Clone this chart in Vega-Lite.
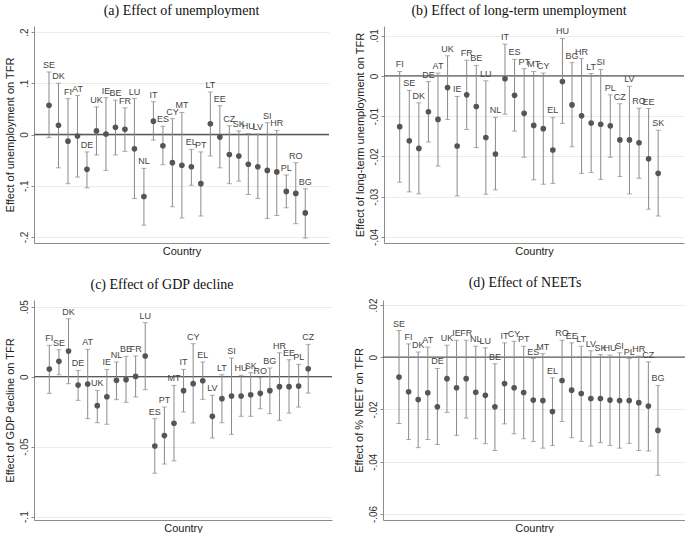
{
"$schema": "https://vega.github.io/schema/vega-lite/v6.json",
"padding": {"left": 4, "top": 4, "right": 0, "bottom": 0},
"background": "white",
"spacing": 20,
"datasets": {
"a": [
{"c":"SE","r":1,"est":0.057,"lo":-0.006,"hi":0.122},
{"c":"DK","r":2,"est":0.018,"lo":-0.065,"hi":0.100},
{"c":"FI","r":3,"est":-0.013,"lo":-0.096,"hi":0.070},
{"c":"AT","r":4,"est":-0.003,"lo":-0.083,"hi":0.076},
{"c":"DE","r":5,"est":-0.068,"lo":-0.104,"hi":-0.034},
{"c":"UK","r":6,"est":0.007,"lo":-0.040,"hi":0.054},
{"c":"IE","r":7,"est":0.001,"lo":-0.070,"hi":0.072},
{"c":"BE","r":8,"est":0.014,"lo":-0.040,"hi":0.067},
{"c":"FR","r":9,"est":0.010,"lo":-0.033,"hi":0.052},
{"c":"LU","r":10,"est":-0.028,"lo":-0.125,"hi":0.070},
{"c":"NL","r":11,"est":-0.121,"lo":-0.177,"hi":-0.066},
{"c":"IT","r":12,"est":0.026,"lo":-0.011,"hi":0.064},
{"c":"ES","r":13,"est":-0.022,"lo":-0.059,"hi":0.016},
{"c":"CY","r":14,"est":-0.055,"lo":-0.141,"hi":0.031},
{"c":"MT","r":15,"est":-0.060,"lo":-0.163,"hi":0.043},
{"c":"EL","r":16,"est":-0.063,"lo":-0.099,"hi":-0.029},
{"c":"PT","r":17,"est":-0.096,"lo":-0.159,"hi":-0.034},
{"c":"LT","r":18,"est":0.021,"lo":-0.042,"hi":0.083},
{"c":"EE","r":19,"est":-0.005,"lo":-0.065,"hi":0.056},
{"c":"CZ","r":20,"est":-0.039,"lo":-0.096,"hi":0.017},
{"c":"SK","r":21,"est":-0.042,"lo":-0.091,"hi":0.007},
{"c":"HU","r":22,"est":-0.058,"lo":-0.117,"hi":0.002},
{"c":"LV","r":23,"est":-0.063,"lo":-0.125,"hi":0.001},
{"c":"SI","r":24,"est":-0.070,"lo":-0.164,"hi":0.023},
{"c":"HR","r":25,"est":-0.073,"lo":-0.158,"hi":0.008},
{"c":"PL","r":26,"est":-0.111,"lo":-0.143,"hi":-0.079},
{"c":"RO","r":27,"est":-0.115,"lo":-0.174,"hi":-0.055},
{"c":"BG","r":28,"est":-0.153,"lo":-0.202,"hi":-0.106}
],
"b": [
{"c":"FI","r":1,"est":-0.0126,"lo":-0.0264,"hi":0.0011},
{"c":"SE","r":2,"est":-0.0161,"lo":-0.0288,"hi":-0.0036},
{"c":"DK","r":3,"est":-0.0180,"lo":-0.0293,"hi":-0.0067},
{"c":"DE","r":4,"est":-0.0089,"lo":-0.0164,"hi":-0.0014},
{"c":"AT","r":5,"est":-0.0108,"lo":-0.0224,"hi":0.0007},
{"c":"UK","r":6,"est":-0.0029,"lo":-0.0108,"hi":0.0050},
{"c":"IE","r":7,"est":-0.0174,"lo":-0.0298,"hi":-0.0051},
{"c":"FR","r":8,"est":-0.0047,"lo":-0.0133,"hi":0.0039},
{"c":"BE","r":9,"est":-0.0076,"lo":-0.0178,"hi":0.0026},
{"c":"LU","r":10,"est":-0.0153,"lo":-0.0294,"hi":-0.0012},
{"c":"NL","r":11,"est":-0.0194,"lo":-0.0283,"hi":-0.0103},
{"c":"IT","r":12,"est":-0.0007,"lo":-0.0095,"hi":0.0079},
{"c":"ES","r":13,"est":-0.0048,"lo":-0.0137,"hi":0.0041},
{"c":"PT","r":14,"est":-0.0093,"lo":-0.0202,"hi":0.0018},
{"c":"MT","r":15,"est":-0.0123,"lo":-0.0258,"hi":0.0011},
{"c":"CY","r":16,"est":-0.0131,"lo":-0.0269,"hi":0.0007},
{"c":"EL","r":17,"est":-0.0184,"lo":-0.0267,"hi":-0.0103},
{"c":"HU","r":18,"est":-0.0014,"lo":-0.0118,"hi":0.0093},
{"c":"BG","r":19,"est":-0.0072,"lo":-0.0176,"hi":0.0033},
{"c":"HR","r":20,"est":-0.0099,"lo":-0.0242,"hi":0.0043},
{"c":"LT","r":21,"est":-0.0117,"lo":-0.0240,"hi":0.0006},
{"c":"SI","r":22,"est":-0.0120,"lo":-0.0257,"hi":0.0016},
{"c":"PL","r":23,"est":-0.0124,"lo":-0.0202,"hi":-0.0047},
{"c":"CZ","r":24,"est":-0.0159,"lo":-0.0250,"hi":-0.0069},
{"c":"LV","r":25,"est":-0.0159,"lo":-0.0293,"hi":-0.0026},
{"c":"RO","r":26,"est":-0.0166,"lo":-0.0254,"hi":-0.0080},
{"c":"EE","r":27,"est":-0.0206,"lo":-0.0331,"hi":-0.0081},
{"c":"SK","r":28,"est":-0.0242,"lo":-0.0348,"hi":-0.0135}
],
"c": [
{"c":"FI","r":1,"est":0.0055,"lo":-0.0119,"hi":0.0224},
{"c":"SE","r":2,"est":0.0110,"lo":0.0014,"hi":0.0193},
{"c":"DK","r":3,"est":0.0183,"lo":-0.0050,"hi":0.0414},
{"c":"DE","r":4,"est":-0.0060,"lo":-0.0169,"hi":0.0045},
{"c":"AT","r":5,"est":-0.0052,"lo":-0.0300,"hi":0.0195},
{"c":"UK","r":6,"est":-0.0207,"lo":-0.0329,"hi":-0.0098},
{"c":"IE","r":7,"est":-0.0143,"lo":-0.0340,"hi":0.0052},
{"c":"NL","r":8,"est":-0.0026,"lo":-0.0164,"hi":0.0105},
{"c":"BE","r":9,"est":-0.0021,"lo":-0.0183,"hi":0.0145},
{"c":"FR","r":10,"est":0.0002,"lo":-0.0145,"hi":0.0148},
{"c":"LU","r":11,"est":0.0148,"lo":-0.0093,"hi":0.0386},
{"c":"ES","r":12,"est":-0.0495,"lo":-0.0690,"hi":-0.0300},
{"c":"PT","r":13,"est":-0.0421,"lo":-0.0624,"hi":-0.0217},
{"c":"MT","r":14,"est":-0.0333,"lo":-0.0602,"hi":-0.0062},
{"c":"IT","r":15,"est":-0.0100,"lo":-0.0252,"hi":0.0052},
{"c":"CY","r":16,"est":-0.0050,"lo":-0.0331,"hi":0.0236},
{"c":"EL","r":17,"est":-0.0029,"lo":-0.0162,"hi":0.0105},
{"c":"LV","r":18,"est":-0.0283,"lo":-0.0438,"hi":-0.0133},
{"c":"LT","r":19,"est":-0.0157,"lo":-0.0329,"hi":0.0014},
{"c":"SI","r":20,"est":-0.0138,"lo":-0.0412,"hi":0.0133},
{"c":"HU","r":21,"est":-0.0138,"lo":-0.0283,"hi":0.0010},
{"c":"SK","r":22,"est":-0.0129,"lo":-0.0283,"hi":0.0029},
{"c":"RO","r":23,"est":-0.0119,"lo":-0.0229,"hi":-0.0007},
{"c":"BG","r":24,"est":-0.0100,"lo":-0.0264,"hi":0.0062},
{"c":"HR","r":25,"est":-0.0071,"lo":-0.0312,"hi":0.0171},
{"c":"EE","r":26,"est":-0.0071,"lo":-0.0260,"hi":0.0121},
{"c":"PL","r":27,"est":-0.0067,"lo":-0.0217,"hi":0.0088},
{"c":"CZ","r":28,"est":0.0057,"lo":-0.0117,"hi":0.0231}
],
"d": [
{"c":"SE","r":1,"est":-0.0076,"lo":-0.0254,"hi":0.0102},
{"c":"FI","r":2,"est":-0.0132,"lo":-0.0315,"hi":0.0051},
{"c":"DK","r":3,"est":-0.0162,"lo":-0.0346,"hi":0.0020},
{"c":"AT","r":4,"est":-0.0136,"lo":-0.0315,"hi":0.0039},
{"c":"DE","r":5,"est":-0.0190,"lo":-0.0334,"hi":-0.0043},
{"c":"UK","r":6,"est":-0.0082,"lo":-0.0211,"hi":0.0046},
{"c":"IE","r":7,"est":-0.0117,"lo":-0.0299,"hi":0.0065},
{"c":"FR","r":8,"est":-0.0082,"lo":-0.0233,"hi":0.0065},
{"c":"NL","r":9,"est":-0.0134,"lo":-0.0312,"hi":0.0042},
{"c":"LU","r":10,"est":-0.0146,"lo":-0.0331,"hi":0.0036},
{"c":"BE","r":11,"est":-0.0190,"lo":-0.0357,"hi":-0.0025},
{"c":"IT","r":12,"est":-0.0101,"lo":-0.0255,"hi":0.0055},
{"c":"CY","r":13,"est":-0.0117,"lo":-0.0293,"hi":0.0061},
{"c":"PT","r":14,"est":-0.0135,"lo":-0.0312,"hi":0.0042},
{"c":"ES","r":15,"est":-0.0164,"lo":-0.0323,"hi":-0.0005},
{"c":"MT","r":16,"est":-0.0166,"lo":-0.0348,"hi":0.0014},
{"c":"EL","r":17,"est":-0.0208,"lo":-0.0338,"hi":-0.0079},
{"c":"RO","r":18,"est":-0.0089,"lo":-0.0246,"hi":0.0065},
{"c":"EE","r":19,"est":-0.0126,"lo":-0.0308,"hi":0.0055},
{"c":"LT","r":20,"est":-0.0139,"lo":-0.0322,"hi":0.0042},
{"c":"LV","r":21,"est":-0.0158,"lo":-0.0340,"hi":0.0025},
{"c":"SK","r":22,"est":-0.0158,"lo":-0.0327,"hi":0.0010},
{"c":"HU","r":23,"est":-0.0164,"lo":-0.0338,"hi":0.0008},
{"c":"SI","r":24,"est":-0.0166,"lo":-0.0348,"hi":0.0017},
{"c":"PL","r":25,"est":-0.0166,"lo":-0.0330,"hi":-0.0005},
{"c":"HR","r":26,"est":-0.0174,"lo":-0.0357,"hi":0.0004},
{"c":"CZ","r":27,"est":-0.0187,"lo":-0.0359,"hi":-0.0018},
{"c":"BG","r":28,"est":-0.0280,"lo":-0.0452,"hi":-0.0108}
]
},
"vconcat": [
{"spacing": 24, "hconcat": [
{"width": 295, "height": 217,
 "title": {"text": "(a) Effect of unemployment", "dx": 0},
 "data": {"name": "a"},
 "layer": [
  {"data": {"values": [{}]}, "mark": {"type": "rule", "color": "#5a5a5a", "strokeWidth": 1.3},
   "encoding": {"y": {"datum": 0, "type": "quantitative", "title": "Effect of unemployment on TFR", "scale": {"domain": [-0.2117, 0.2117], "nice": false, "zero": false},
     "axis": {"values": [-0.2, -0.1, 0, 0.1, 0.2], "labelExpr": "datum.value == 0 ? '0' : replace(replace(format(datum.value, '.2~f'), '0.', '.'), '−', '-')", "grid": true}}}},
  {"mark": {"type": "rule", "color": "#8a8a8a", "strokeWidth": 1},
   "encoding": {"x": {"field": "r", "type": "quantitative", "title": "Country", "scale": {"domain": [-0.58, 30.5], "nice": false, "zero": false}},
     "y": {"field": "lo", "type": "quantitative", "title": "Effect of unemployment on TFR", "scale": {"domain": [-0.2117, 0.2117], "nice": false, "zero": false}}, "y2": {"field": "hi"}}},
  {"mark": {"type": "tick", "orient": "horizontal", "size": 5, "thickness": 1, "color": "#8a8a8a"},
   "encoding": {"x": {"field": "r", "type": "quantitative", "title": "Country", "scale": {"domain": [-0.58, 30.5], "nice": false, "zero": false}},
     "y": {"field": "lo", "type": "quantitative", "title": "Effect of unemployment on TFR", "scale": {"domain": [-0.2117, 0.2117], "nice": false, "zero": false}}}},
  {"mark": {"type": "tick", "orient": "horizontal", "size": 5, "thickness": 1, "color": "#8a8a8a"},
   "encoding": {"x": {"field": "r", "type": "quantitative", "title": "Country", "scale": {"domain": [-0.58, 30.5], "nice": false, "zero": false}},
     "y": {"field": "hi", "type": "quantitative", "title": "Effect of unemployment on TFR", "scale": {"domain": [-0.2117, 0.2117], "nice": false, "zero": false}}}},
  {"mark": {"type": "point", "filled": true, "size": 32, "color": "#555555", "opacity": 1},
   "encoding": {"x": {"field": "r", "type": "quantitative", "title": "Country", "scale": {"domain": [-0.58, 30.5], "nice": false, "zero": false}},
     "y": {"field": "est", "type": "quantitative", "title": "Effect of unemployment on TFR", "scale": {"domain": [-0.2117, 0.2117], "nice": false, "zero": false}}}},
  {"mark": {"type": "text", "fontSize": 9, "color": "#444444", "baseline": "bottom", "dy": -2},
   "encoding": {"x": {"field": "r", "type": "quantitative", "title": "Country", "scale": {"domain": [-0.58, 30.5], "nice": false, "zero": false}},
     "y": {"field": "hi", "type": "quantitative", "title": "Effect of unemployment on TFR", "scale": {"domain": [-0.2117, 0.2117], "nice": false, "zero": false}}, "text": {"field": "c"}}}
 ]},
{"width": 300, "height": 217,
 "title": {"text": "(b) Effect of long-term unemployment", "dx": -15},
 "data": {"name": "b"},
 "layer": [
  {"data": {"values": [{}]}, "mark": {"type": "rule", "color": "#5a5a5a", "strokeWidth": 1.3},
   "encoding": {"y": {"datum": 0, "type": "quantitative", "title": "Effect of long-term unemployment on TFR", "scale": {"domain": [-0.0415, 0.0124], "nice": false, "zero": false},
     "axis": {"values": [-0.04, -0.03, -0.02, -0.01, 0, 0.01], "labelExpr": "datum.value == 0 ? '0' : replace(replace(format(datum.value, '.2~f'), '0.', '.'), '−', '-')", "grid": true}}}},
  {"mark": {"type": "rule", "color": "#8a8a8a", "strokeWidth": 1},
   "encoding": {"x": {"field": "r", "type": "quantitative", "title": "Country", "scale": {"domain": [-0.64, 30.7], "nice": false, "zero": false}},
     "y": {"field": "lo", "type": "quantitative", "title": "Effect of long-term unemployment on TFR", "scale": {"domain": [-0.0415, 0.0124], "nice": false, "zero": false}}, "y2": {"field": "hi"}}},
  {"mark": {"type": "tick", "orient": "horizontal", "size": 5, "thickness": 1, "color": "#8a8a8a"},
   "encoding": {"x": {"field": "r", "type": "quantitative", "title": "Country", "scale": {"domain": [-0.64, 30.7], "nice": false, "zero": false}},
     "y": {"field": "lo", "type": "quantitative", "title": "Effect of long-term unemployment on TFR", "scale": {"domain": [-0.0415, 0.0124], "nice": false, "zero": false}}}},
  {"mark": {"type": "tick", "orient": "horizontal", "size": 5, "thickness": 1, "color": "#8a8a8a"},
   "encoding": {"x": {"field": "r", "type": "quantitative", "title": "Country", "scale": {"domain": [-0.64, 30.7], "nice": false, "zero": false}},
     "y": {"field": "hi", "type": "quantitative", "title": "Effect of long-term unemployment on TFR", "scale": {"domain": [-0.0415, 0.0124], "nice": false, "zero": false}}}},
  {"mark": {"type": "point", "filled": true, "size": 32, "color": "#555555", "opacity": 1},
   "encoding": {"x": {"field": "r", "type": "quantitative", "title": "Country", "scale": {"domain": [-0.64, 30.7], "nice": false, "zero": false}},
     "y": {"field": "est", "type": "quantitative", "title": "Effect of long-term unemployment on TFR", "scale": {"domain": [-0.0415, 0.0124], "nice": false, "zero": false}}}},
  {"mark": {"type": "text", "fontSize": 9, "color": "#444444", "baseline": "bottom", "dy": -2},
   "encoding": {"x": {"field": "r", "type": "quantitative", "title": "Country", "scale": {"domain": [-0.64, 30.7], "nice": false, "zero": false}},
     "y": {"field": "hi", "type": "quantitative", "title": "Effect of long-term unemployment on TFR", "scale": {"domain": [-0.0415, 0.0124], "nice": false, "zero": false}}, "text": {"field": "c"}}}
 ]}
]},
{"spacing": 20, "hconcat": [
{"width": 298, "height": 220,
 "title": {"text": "(c) Effect of GDP decline", "dx": -21},
 "data": {"name": "c"},
 "layer": [
  {"data": {"values": [{}]}, "mark": {"type": "rule", "color": "#5a5a5a", "strokeWidth": 1.3},
   "encoding": {"y": {"datum": 0, "type": "quantitative", "title": "Effect of GDP decline on TFR", "scale": {"domain": [-0.1024, 0.0548], "nice": false, "zero": false},
     "axis": {"values": [-0.1, -0.05, 0, 0.05], "labelExpr": "datum.value == 0 ? '0' : replace(replace(format(datum.value, '.2~f'), '0.', '.'), '−', '-')", "grid": true}}}},
  {"mark": {"type": "rule", "color": "#8a8a8a", "strokeWidth": 1},
   "encoding": {"x": {"field": "r", "type": "quantitative", "title": "Country", "scale": {"domain": [-0.6, 30.48], "nice": false, "zero": false}},
     "y": {"field": "lo", "type": "quantitative", "title": "Effect of GDP decline on TFR", "scale": {"domain": [-0.1024, 0.0548], "nice": false, "zero": false}}, "y2": {"field": "hi"}}},
  {"mark": {"type": "tick", "orient": "horizontal", "size": 5, "thickness": 1, "color": "#8a8a8a"},
   "encoding": {"x": {"field": "r", "type": "quantitative", "title": "Country", "scale": {"domain": [-0.6, 30.48], "nice": false, "zero": false}},
     "y": {"field": "lo", "type": "quantitative", "title": "Effect of GDP decline on TFR", "scale": {"domain": [-0.1024, 0.0548], "nice": false, "zero": false}}}},
  {"mark": {"type": "tick", "orient": "horizontal", "size": 5, "thickness": 1, "color": "#8a8a8a"},
   "encoding": {"x": {"field": "r", "type": "quantitative", "title": "Country", "scale": {"domain": [-0.6, 30.48], "nice": false, "zero": false}},
     "y": {"field": "hi", "type": "quantitative", "title": "Effect of GDP decline on TFR", "scale": {"domain": [-0.1024, 0.0548], "nice": false, "zero": false}}}},
  {"mark": {"type": "point", "filled": true, "size": 32, "color": "#555555", "opacity": 1},
   "encoding": {"x": {"field": "r", "type": "quantitative", "title": "Country", "scale": {"domain": [-0.6, 30.48], "nice": false, "zero": false}},
     "y": {"field": "est", "type": "quantitative", "title": "Effect of GDP decline on TFR", "scale": {"domain": [-0.1024, 0.0548], "nice": false, "zero": false}}}},
  {"mark": {"type": "text", "fontSize": 9, "color": "#444444", "baseline": "bottom", "dy": -2},
   "encoding": {"x": {"field": "r", "type": "quantitative", "title": "Country", "scale": {"domain": [-0.6, 30.48], "nice": false, "zero": false}},
     "y": {"field": "hi", "type": "quantitative", "title": "Effect of GDP decline on TFR", "scale": {"domain": [-0.1024, 0.0548], "nice": false, "zero": false}}, "text": {"field": "c"}}}
 ]},
{"width": 302, "height": 220,
 "title": {"text": "(d) Effect of NEETs", "dx": -9},
 "data": {"name": "d"},
 "layer": [
  {"data": {"values": [{}]}, "mark": {"type": "rule", "color": "#5a5a5a", "strokeWidth": 1.3},
   "encoding": {"y": {"datum": 0, "type": "quantitative", "title": "Effect of % NEET on TFR", "scale": {"domain": [-0.0623, 0.0219], "nice": false, "zero": false},
     "axis": {"values": [-0.06, -0.04, -0.02, 0, 0.02], "labelExpr": "datum.value == 0 ? '0' : replace(replace(format(datum.value, '.2~f'), '0.', '.'), '−', '-')", "grid": true}}}},
  {"mark": {"type": "rule", "color": "#8a8a8a", "strokeWidth": 1},
   "encoding": {"x": {"field": "r", "type": "quantitative", "title": "Country", "scale": {"domain": [-0.67, 30.82], "nice": false, "zero": false}},
     "y": {"field": "lo", "type": "quantitative", "title": "Effect of % NEET on TFR", "scale": {"domain": [-0.0623, 0.0219], "nice": false, "zero": false}}, "y2": {"field": "hi"}}},
  {"mark": {"type": "tick", "orient": "horizontal", "size": 5, "thickness": 1, "color": "#8a8a8a"},
   "encoding": {"x": {"field": "r", "type": "quantitative", "title": "Country", "scale": {"domain": [-0.67, 30.82], "nice": false, "zero": false}},
     "y": {"field": "lo", "type": "quantitative", "title": "Effect of % NEET on TFR", "scale": {"domain": [-0.0623, 0.0219], "nice": false, "zero": false}}}},
  {"mark": {"type": "tick", "orient": "horizontal", "size": 5, "thickness": 1, "color": "#8a8a8a"},
   "encoding": {"x": {"field": "r", "type": "quantitative", "title": "Country", "scale": {"domain": [-0.67, 30.82], "nice": false, "zero": false}},
     "y": {"field": "hi", "type": "quantitative", "title": "Effect of % NEET on TFR", "scale": {"domain": [-0.0623, 0.0219], "nice": false, "zero": false}}}},
  {"mark": {"type": "point", "filled": true, "size": 32, "color": "#555555", "opacity": 1},
   "encoding": {"x": {"field": "r", "type": "quantitative", "title": "Country", "scale": {"domain": [-0.67, 30.82], "nice": false, "zero": false}},
     "y": {"field": "est", "type": "quantitative", "title": "Effect of % NEET on TFR", "scale": {"domain": [-0.0623, 0.0219], "nice": false, "zero": false}}}},
  {"mark": {"type": "text", "fontSize": 9, "color": "#444444", "baseline": "bottom", "dy": -2},
   "encoding": {"x": {"field": "r", "type": "quantitative", "title": "Country", "scale": {"domain": [-0.67, 30.82], "nice": false, "zero": false}},
     "y": {"field": "hi", "type": "quantitative", "title": "Effect of % NEET on TFR", "scale": {"domain": [-0.0623, 0.0219], "nice": false, "zero": false}}, "text": {"field": "c"}}}
 ]}
]}
],
"config": {
 "view": {"stroke": null},
 "font": "Liberation Sans",
 "text": {"font": "Liberation Sans"},
 "title": {"font": "Liberation Serif", "fontSize": 14, "fontWeight": "normal", "color": "#111111", "anchor": "middle", "frame": "group", "offset": 8},
 "axis": {"domainColor": "#8c8c8c", "tickColor": "#8c8c8c", "labelColor": "#333333", "titleColor": "#222222", "labelFont": "Liberation Sans", "titleFont": "Liberation Sans", "titleFontWeight": "normal", "labelFontSize": 10, "titleFontSize": 11, "gridColor": "#ebebeb", "tickSize": 3},
 "axisX": {"labels": false, "ticks": false, "grid": false, "titlePadding": 2},
 "axisY": {"labelAngle": -90, "labelAlign": "center", "labelBaseline": "bottom", "labelPadding": 2, "titlePadding": 4}
}
}
